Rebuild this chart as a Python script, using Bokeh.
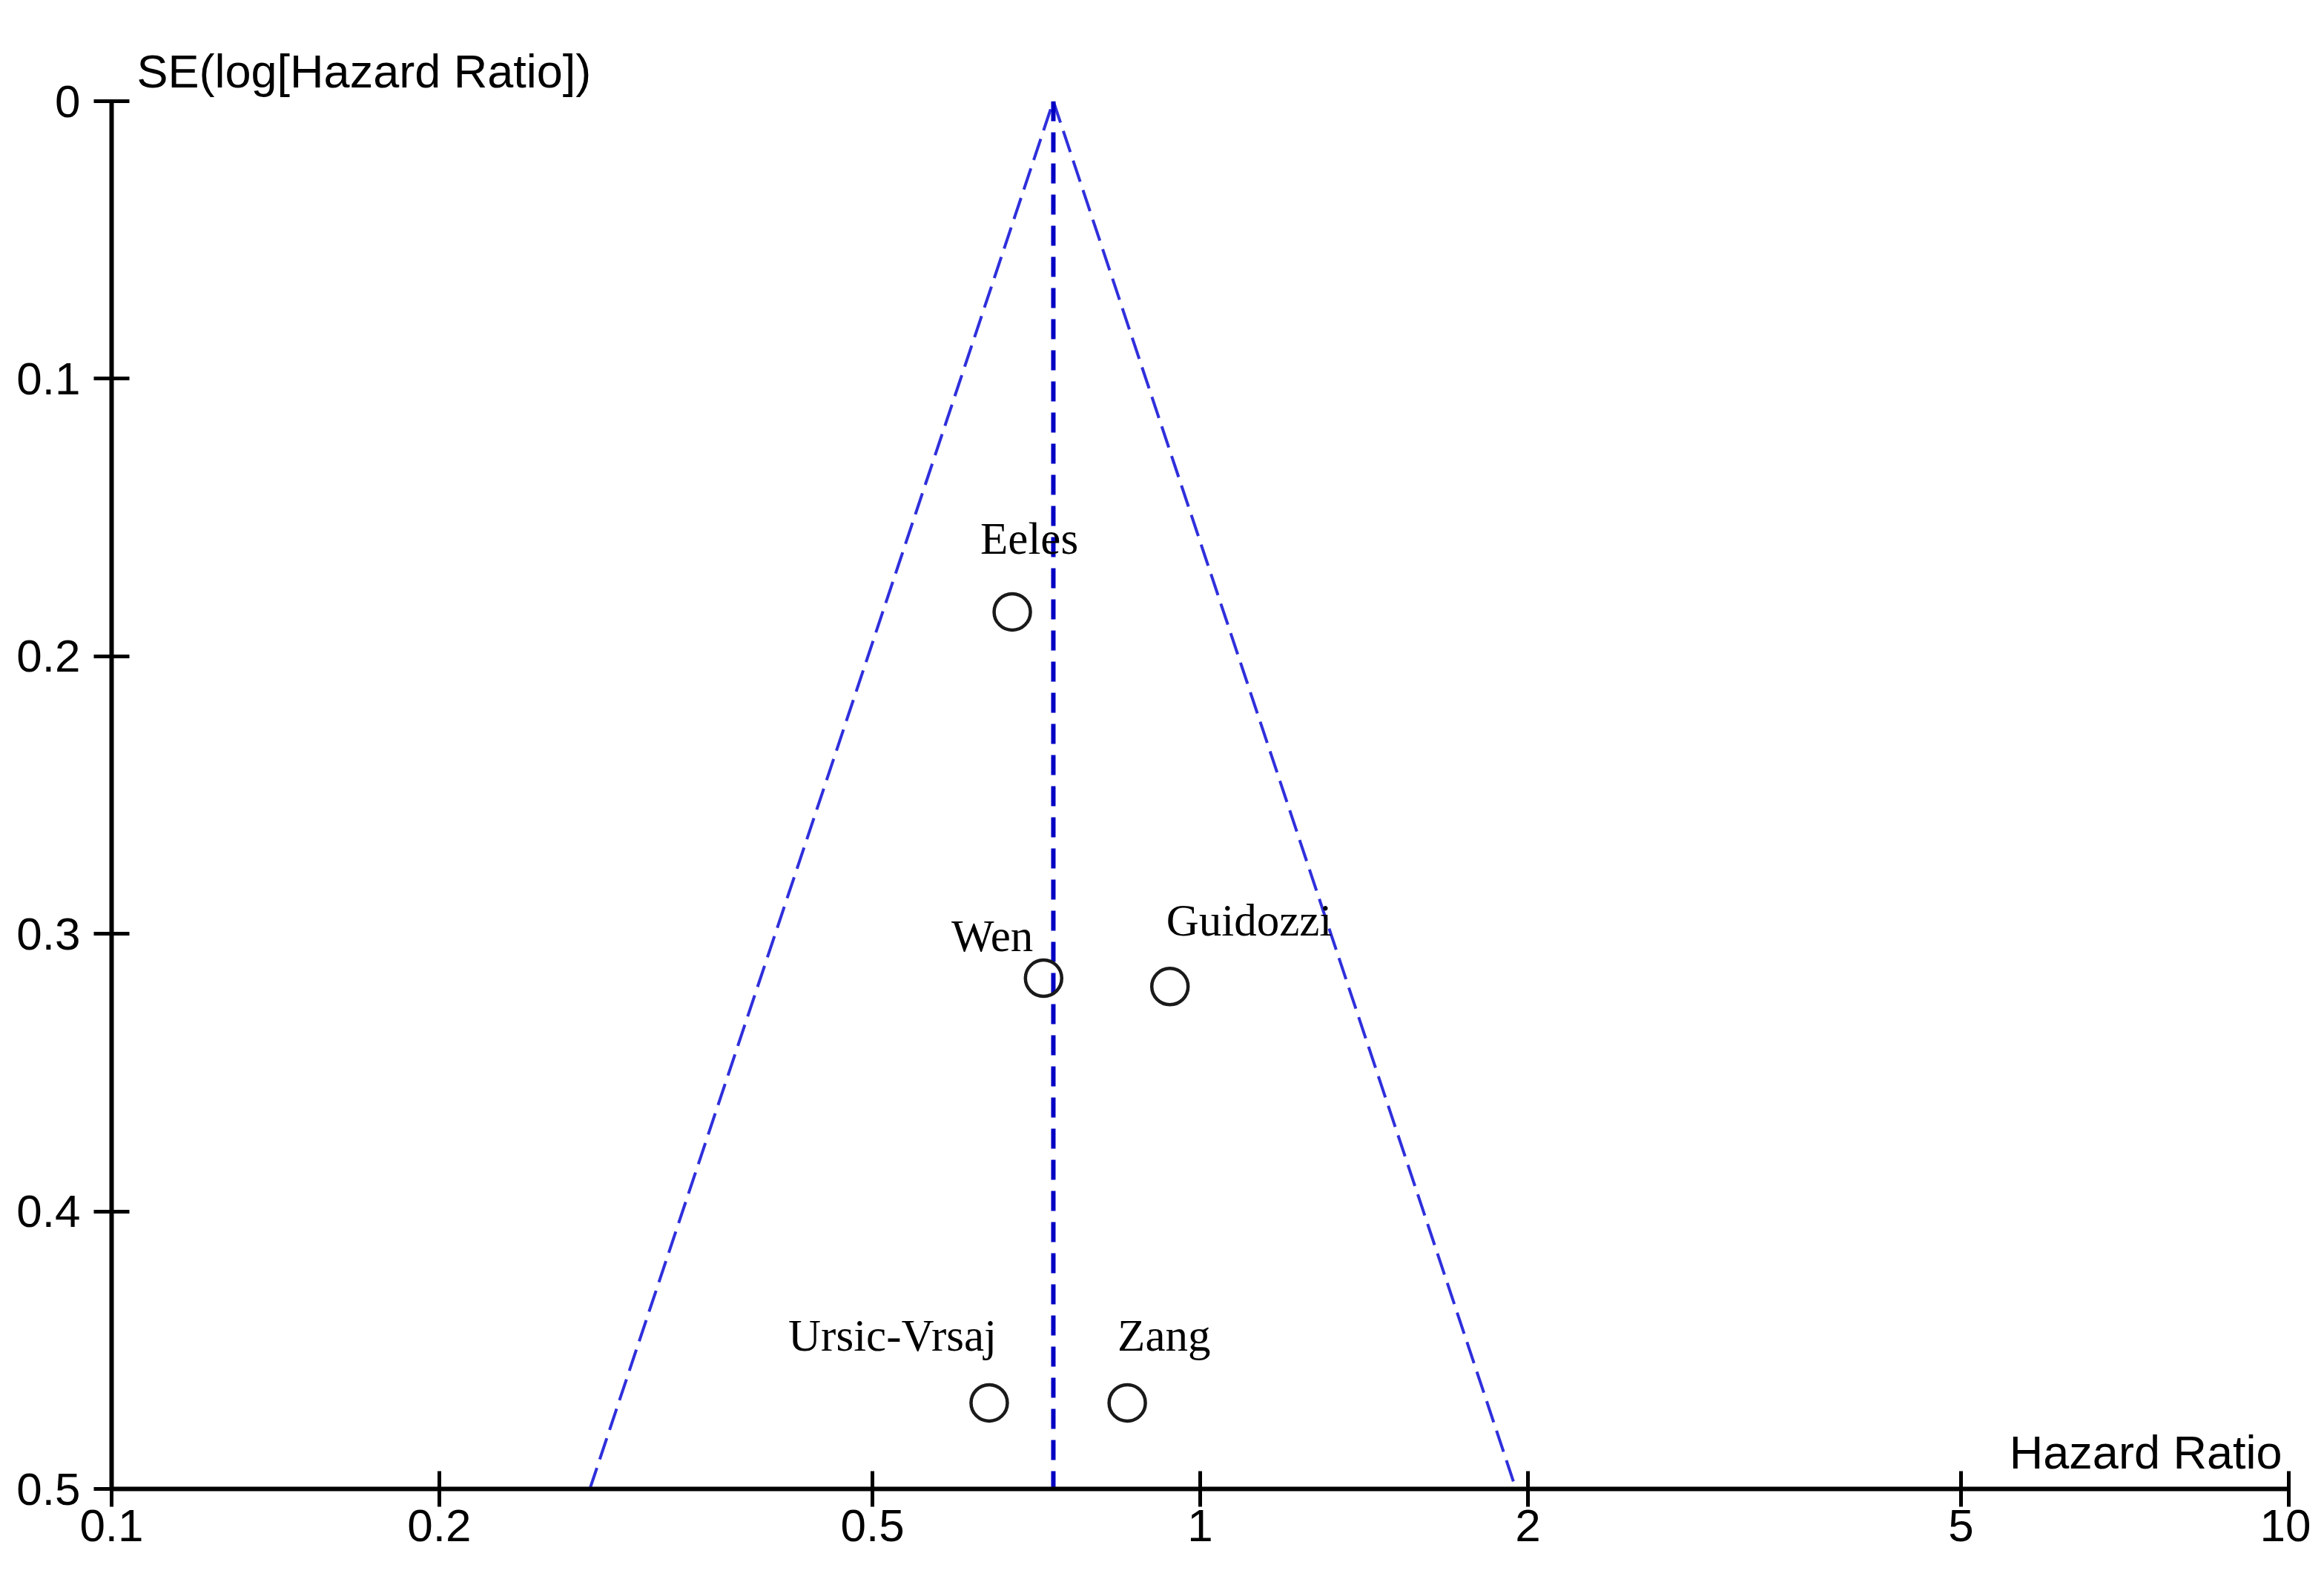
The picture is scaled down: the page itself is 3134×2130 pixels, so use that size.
from bokeh.plotting import figure
from bokeh.models import (Range1d, FixedTicker, NumeralTickFormatter,
                          ColumnDataSource)
from bokeh.core.properties import value
from bokeh.embed import file_html
from bokeh.resources import INLINE

# ---- data ----
studies = ["Eeles", "Wen", "Guidozzi", "Ursic-Vrsaj", "Zang"]
hazard_ratio = [0.672, 0.718, 0.938, 0.640, 0.857]
se_log_hr = [0.184, 0.316, 0.319, 0.469, 0.469]

pooled_hr = 0.733          # vertical dashed line / funnel apex
funnel_low_hr = 0.275      # left funnel edge at SE = 0.5
funnel_high_hr = 1.95      # right funnel edge at SE = 0.5
se_max = 0.5

x_ticks = [0.1, 0.2, 0.5, 1, 2, 5, 10]
y_ticks = [0, 0.1, 0.2, 0.3, 0.4, 0.5]

x_title = "Hazard Ratio"
y_title = "SE(log[Hazard Ratio])"

# ---- label placement styles (screen px, y down) ----
label_dx = [-43, -14, -5, 10, -13]
label_dy = [-99, -57, -89, -91, -91]
label_align = ["left", "right", "left", "right", "left"]

SANS = "Liberation Sans"
SERIF = "Liberation Serif"

p = figure(frame_width=2936, frame_height=1872,
           x_axis_type="log",
           x_range=Range1d(0.1, 10), y_range=Range1d(se_max, 0),
           output_backend="svg", toolbar_location=None,
           min_border_left=150, min_border_top=136,
           min_border_right=30, min_border_bottom=100)
p.outline_line_color = None
p.xgrid.visible = False
p.ygrid.visible = False
p.background_fill_color = "white"
p.border_fill_color = "white"

# y-axis title drawn at the top-left, horizontally
p.title.text = y_title
p.title.align = "left"
p.title.offset = 34
p.title.standoff = 12
p.title.text_font = SANS
p.title.text_font_size = "63px"
p.title.text_font_style = "normal"
p.title.text_color = "black"

for ax in (p.xaxis[0], p.yaxis[0]):
    ax.axis_line_width = 6
    ax.axis_line_color = "black"
    ax.major_tick_line_width = 5
    ax.major_tick_line_color = "black"
    ax.major_tick_in = 24
    ax.major_tick_out = 24
    ax.minor_tick_line_color = None
    ax.major_label_text_font = SANS
    ax.major_label_text_font_size = "62px"
    ax.major_label_text_color = "black"
    ax.formatter = NumeralTickFormatter(format="0.[0]")

p.xaxis[0].ticker = FixedTicker(ticks=x_ticks)
p.yaxis[0].ticker = FixedTicker(ticks=y_ticks)
p.xaxis[0].major_label_standoff = 4
p.yaxis[0].major_label_standoff = 18

# funnel
p.line(x=[funnel_low_hr, pooled_hr, funnel_high_hr], y=[se_max, 0, se_max],
       line_color="#2f2fdc", line_width=4, line_dash="30 12")
# pooled estimate
p.line(x=[pooled_hr, pooled_hr], y=[0, se_max],
       line_color="#0000c4", line_width=6, line_dash="27 15")

src = ColumnDataSource(dict(x=hazard_ratio, y=se_log_hr, name=studies,
                            dx=label_dx, dy=label_dy, align=label_align))
p.scatter(x="x", y="y", source=src, marker="circle", size=49,
          fill_color=None, line_color="#1a1a1a", line_width=4.5)
p.text(x="x", y="y", text="name", source=src, x_offset="dx", y_offset="dy",
       text_align="align", text_baseline="alphabetic",
       text_font=value(SERIF), text_font_size="61px", text_color="black")

# x-axis title inside the frame, right-aligned above the axis
p.text(x=[x_ticks[-1]], y=[se_max], text=[x_title], x_offset=-9, y_offset=-50,
       text_align="right", text_baseline="alphabetic",
       text_font=value(SANS), text_font_size="63px", text_color="black")

open("out.html", "w").write(file_html(p, INLINE))
